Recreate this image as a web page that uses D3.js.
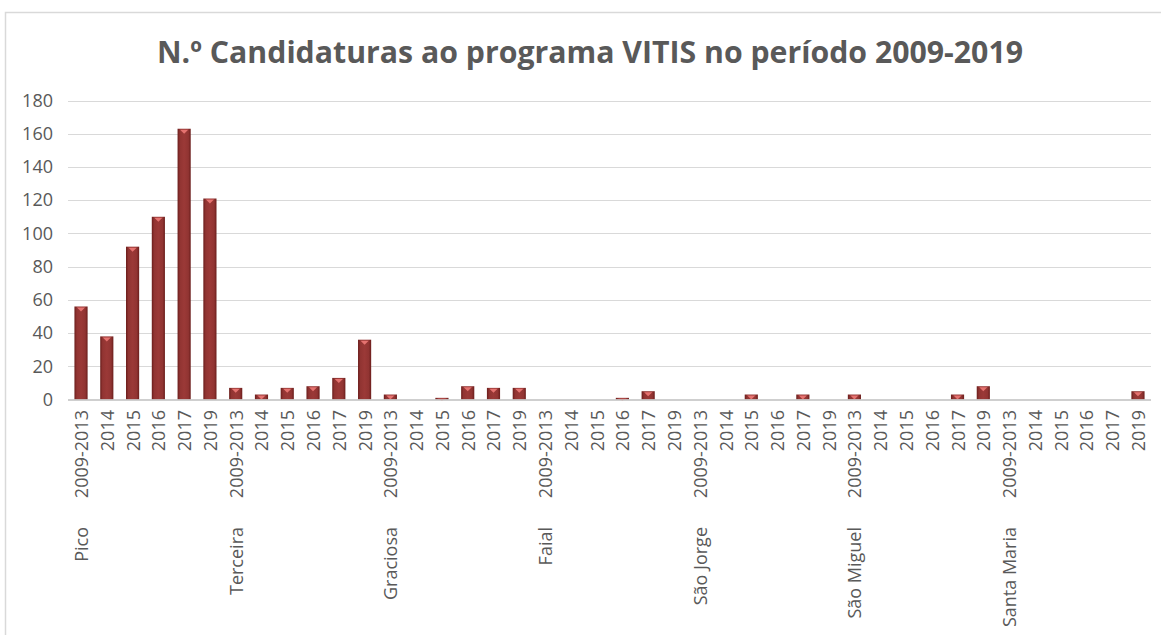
<!DOCTYPE html>
<html>
  <head>
    <meta charset="utf-8">
    <script src="https://d3js.org/d3.v7.min.js"></script>
    <style>
      body { margin: 0; background: #fff; }
      .tick-lbl { font-family: "Open Sans", sans-serif; font-size: 18px; fill: #595959; }
      .title { font-family: "Open Sans", sans-serif; font-weight: bold; font-size: 31px; fill: #595959; }
    </style>
  </head>
  <body>
    <svg width="1161" height="635"></svg>
    <script>
    // data
    var islands = ["Pico", "Terceira", "Graciosa", "Faial", "São Jorge", "São Miguel", "Santa Maria"];
    var years = ["2009-2013", "2014", "2015", "2016", "2017", "2019"];
    var pico = [56, 38, 92, 110, 163, 121];
    var terceira = [7, 3, 7, 8, 13, 36];
    var graciosa = [3, 0, 1, 8, 7, 7];
    var faial = [0, 0, 0, 1, 5, 0];
    var saoJorge = [0, 0, 3, 0, 3, 0];
    var saoMiguel = [3, 0, 0, 0, 3, 8];
    var santaMaria = [0, 0, 0, 0, 0, 5];
    var yTicks = [0, 20, 40, 60, 80, 100, 120, 140, 160, 180];

    var series = [pico, terceira, graciosa, faial, saoJorge, saoMiguel, santaMaria];
    var data = [];
    islands.forEach(function(isl, i) {
      years.forEach(function(yr, j) {
        data.push({island: isl, year: yr, first: j === 0, key: isl + "|" + yr, value: series[i][j]});
      });
    });

    var svg = d3.select("svg");

    // chart frame
    svg.append("rect")
        .attr("x", 5.5).attr("y", 12.5)
        .attr("width", 1170).attr("height", 640)
        .attr("fill", "#fff")
        .attr("stroke", "#d9d9d9")
        .attr("stroke-width", 1.5);

    var x = d3.scaleBand()
        .domain(data.map(function(d) { return d.key; }))
        .range([68, 1151])
        .paddingInner(0.49)
        .paddingOuter(0.25);

    var y = d3.scaleLinear().domain([0, 180]).range([399.5, 100.5]);

    var defs = svg.append("defs");
    var grad = defs.append("linearGradient").attr("id", "barGrad")
        .attr("x1", "0").attr("x2", "1").attr("y1", "0").attr("y2", "0");
    grad.append("stop").attr("offset", "0").attr("stop-color", "#6a1d1b");
    grad.append("stop").attr("offset", "0.18").attr("stop-color", "#913432");
    grad.append("stop").attr("offset", "0.5").attr("stop-color", "#9b3937");
    grad.append("stop").attr("offset", "0.82").attr("stop-color", "#913432");
    grad.append("stop").attr("offset", "1").attr("stop-color", "#6a1d1b");

    // gridlines
    svg.append("g").selectAll("line")
        .data(yTicks.slice(1))
        .enter().append("line")
        .attr("x1", 68).attr("x2", 1151)
        .attr("y1", function(d) { return Math.round(y(d)) + 0.5; })
        .attr("y2", function(d) { return Math.round(y(d)) + 0.5; })
        .attr("stroke", "#d9d9d9")
        .attr("stroke-width", 1);

    // y labels
    svg.append("g").selectAll("text")
        .data(yTicks)
        .enter().append("text")
        .attr("class", "tick-lbl")
        .attr("x", 53)
        .attr("y", function(d) { return y(d); })
        .attr("dy", "0.35em")
        .attr("text-anchor", "end")
        .text(function(d) { return d; });

    // bars
    var bars = svg.append("g").selectAll("g")
        .data(data.filter(function(d) { return d.value > 0; }))
        .enter().append("g");

    bars.append("rect")
        .attr("x", function(d) { return x(d.key); })
        .attr("y", function(d) { return y(d.value); })
        .attr("width", x.bandwidth())
        .attr("height", function(d) { return y(0) - y(d.value); })
        .attr("fill", "url(#barGrad)");

    bars.append("path")
        .attr("d", function(d) {
          var x0 = x(d.key), w = x.bandwidth(), t = y(d.value);
          var h = Math.min(4, y(0) - t);
          return "M" + (x0 + 2.5) + "," + (t + 1) + "L" + (x0 + w - 2.5) + "," + (t + 1) +
                 "L" + (x0 + w / 2) + "," + (t + 1 + h) + "Z";
        })
        .attr("fill", "#e57370");

    // axis line
    svg.append("line")
        .attr("x1", 68).attr("x2", 1151)
        .attr("y1", 400).attr("y2", 400)
        .attr("stroke", "#bfbfbf")
        .attr("stroke-width", 1.5);

    // year labels
    svg.append("g").selectAll("text")
        .data(data)
        .enter().append("text")
        .attr("class", "tick-lbl")
        .attr("transform", function(d) {
          return "translate(" + (x(d.key) + x.bandwidth() / 2 + 7) + ",410) rotate(-90)";
        })
        .attr("text-anchor", "end")
        .text(function(d) { return d.year; });

    // island labels
    svg.append("g").selectAll("text")
        .data(data.filter(function(d) { return d.first; }))
        .enter().append("text")
        .attr("class", "tick-lbl")
        .attr("transform", function(d) {
          return "translate(" + (x(d.key) + x.bandwidth() / 2 + 7) + ",527) rotate(-90)";
        })
        .attr("text-anchor", "end")
        .text(function(d) { return d.island; });

    // title
    svg.append("text")
        .attr("class", "title")
        .attr("x", 590)
        .attr("y", 63)
        .attr("text-anchor", "middle")
        .attr("textLength", 866)
        .attr("lengthAdjust", "spacingAndGlyphs")
        .text("N.º Candidaturas ao programa VITIS no período 2009-2019");
    </script>
  </body>
</html>
